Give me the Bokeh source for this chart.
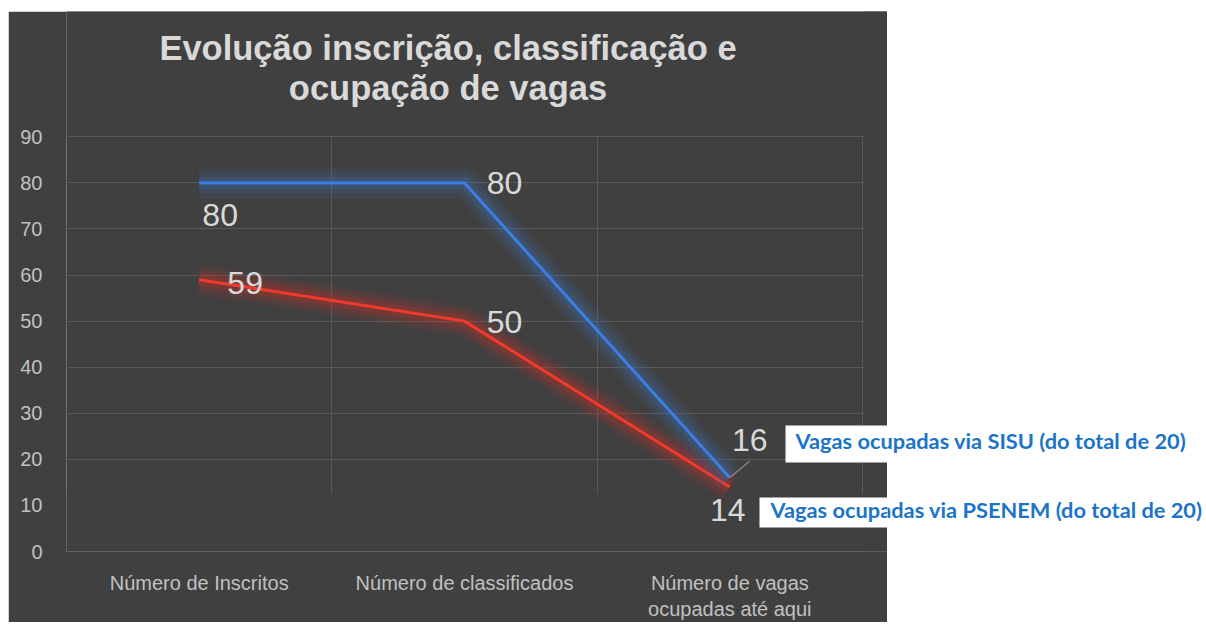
from bokeh.plotting import figure
from bokeh.models import Range1d, ColumnDataSource, BoxAnnotation, Label, FixedTicker, Spacer
from bokeh.layouts import column, row
from bokeh.core.properties import value
from bokeh.embed import file_html
from bokeh.resources import INLINE

# ---------------- data ----------------
categories = ["Número de Inscritos", "Número de classificados", "Número de vagas\nocupadas até aqui"]
sisu = [80, 80, 16]
psenem = [59, 50, 14]
y_ticks = [0, 10, 20, 30, 40, 50, 60, 70, 80, 90]
title_lines = ["Evolução inscrição, classificação e", "ocupação de vagas"]
sisu_note = "Vagas ocupadas via SISU (do total de 20)"
psenem_note = "Vagas ocupadas via PSENEM (do total de 20)"

# ---------------- styles ----------------
BG = "#404040"
GRID = "#595959"
BLUE = "#3b7ee6"
RED = "#f23a2c"
BLUE_GLOW = "#3f6fb0"
RED_GLOW = "#c8322a"
TXT = "#d9d9d9"
AX = "#c0c0c0"
NOTE = "#1b74c8"

# chart panel: page x 8..887, y 11..622 ; frame left 66, bottom 554, x=3 at 862, y=90 at 137
AW, AH = 879, 611
FL, FB_BORDER = 58, 68
X_END = 3 + (887 - 862) / ((862 - 66) / 3)
Y_END = 90 + (137 - 11) / ((554 - 137) / 90)
xs = [i + 0.5 for i in range(len(categories))]

p = figure(x_range=Range1d(0, X_END), y_range=Range1d(0, Y_END),
           width=AW, height=AH, output_backend="svg", toolbar_location=None,
           min_border_left=FL, min_border_right=0, min_border_top=0, min_border_bottom=FB_BORDER)
p.title.visible = False
p.border_fill_color = BG
p.background_fill_color = BG
p.outline_line_color = None

# grids
p.ygrid.ticker = FixedTicker(ticks=y_ticks)
p.ygrid.bounds = (20, 90)
p.ygrid.grid_line_color = GRID
p.xgrid.ticker = FixedTicker(ticks=[0, 1, 2, 3])
p.xgrid.grid_line_color = GRID

# mask grid outside the plot area
mask_kw = dict(fill_color=BG, fill_alpha=1, line_alpha=0, level="underlay")
p.add_layout(BoxAnnotation(bottom=90.25, **mask_kw))
p.add_layout(BoxAnnotation(left=3.004, **mask_kw))
p.add_layout(BoxAnnotation(top=12.5, **mask_kw))

# axes
p.yaxis.ticker = FixedTicker(ticks=y_ticks)
p.xaxis.ticker = FixedTicker(ticks=xs)
p.xaxis.major_label_overrides = {x: c for x, c in zip(xs, categories)}
for ax in (p.xaxis[0], p.yaxis[0]):
    ax.axis_line_color = None
    ax.major_tick_line_color = None
    ax.minor_tick_line_color = None
    ax.major_label_text_color = AX
    ax.major_label_text_font = "Liberation Sans"
    ax.major_label_text_font_size = "20px"
p.yaxis.major_label_standoff = 18
p.xaxis.major_label_standoff = 14

src = ColumnDataSource(dict(x=xs, sisu=sisu, psenem=psenem))

# glow + lines
for col, glow, main in (("psenem", RED_GLOW, RED), ("sisu", BLUE_GLOW, BLUE)):
    for w, a in ((30, 0.11), (20, 0.15), (12, 0.22)):
        p.line("x", col, source=src, line_width=w, line_color=glow, line_alpha=a, line_join="round")
    p.line("x", col, source=src, line_width=3, line_color=main, line_join="miter")

# leader line of the last SISU label
p.ray(x=xs[-1:], y=sisu[-1:], length=26, length_units="screen", angle=0.70,
      line_color="#8a8a8a", line_width=1.2)

# data labels
sisu_dx, sisu_dy = [21, 40, 20], [32, 0, -38]
ps_dx, ps_dy = [46, 40, -2], [3, 1, 23]
lab_kw = dict(text_font=value("Liberation Sans"), text_font_size="32px", text_color=TXT,
              text_align="center", text_baseline="middle")
p.text(x=xs, y=sisu, text=[str(v) for v in sisu], x_offset=sisu_dx, y_offset=sisu_dy, **lab_kw)
p.text(x=xs, y=psenem, text=[str(v) for v in psenem], x_offset=ps_dx, y_offset=ps_dy, **lab_kw)

# title
for t, yb in zip(title_lines, (504, 464)):
    p.add_layout(Label(x=381.5, y=yb, x_units="screen", y_units="screen", text=t,
                       text_align="center", text_baseline="alphabetic",
                       text_font="Liberation Sans", text_font_style="bold",
                       text_font_size="34.5px", text_color=TXT))

# white note boxes (part over the dark panel)
box_kw = dict(fill_color="white", fill_alpha=1, line_alpha=0, level="overlay")
p.add_layout(BoxAnnotation(left=777, left_units="canvas", right=AW, right_units="canvas",
                           top=414, top_units="canvas", bottom=451, bottom_units="canvas", **box_kw))
p.add_layout(BoxAnnotation(left=751, left_units="canvas", right=AW, right_units="canvas",
                           top=486, top_units="canvas", bottom=516, bottom_units="canvas", **box_kw))

note_kw = dict(x_units="screen", y_units="screen", text_align="left", text_baseline="middle",
               text_font="Lato", text_font_style="bold", text_font_size="21.8px",
               text_color=NOTE, level="overlay")
# note positions on page: SISU text left 795 / mid 443 ; PSENEM text left 770 / mid 512
# (frames of both panels share the same bottom edge at page y 554)
p.add_layout(Label(x=795 - 66, y=554 - 443, text=sisu_note, **note_kw))
p.add_layout(Label(x=770 - 66, y=554 - 512, text=psenem_note, **note_kw))

# white continuation panel on the right (page x 887..1205)
BW = 318
q = figure(x_range=Range1d(0, 1), y_range=Range1d(0, 1), width=BW, height=AH,
           x_axis_type=None, y_axis_type=None,
           output_backend="svg", toolbar_location=None, min_border=0)
q.title.visible = False
q.grid.visible = False
q.outline_line_color = None
q.border_fill_color = "white"
q.background_fill_color = "white"
q.add_layout(Label(x=795 - 887, y=554 - 443, text=sisu_note, **note_kw))
q.add_layout(Label(x=770 - 887, y=554 - 512, text=psenem_note, **note_kw))

layout = column(Spacer(height=11), row(Spacer(width=8), p, q))
open("out.html", "w").write(file_html(layout, INLINE))
